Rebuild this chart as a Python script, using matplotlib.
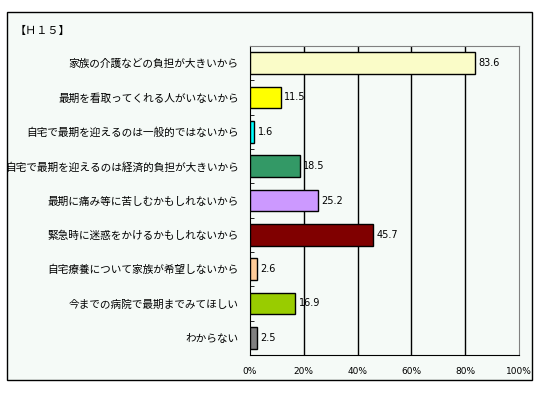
import matplotlib.pyplot as plt
from matplotlib.patches import Rectangle
import numpy as np

plt.rcParams['font.family'] = ['Noto Sans CJK JP', 'DejaVu Sans']

# data
labels = ['家族の介護などの負担が大きいから',
          '最期を看取ってくれる人がいないから',
          '自宅で最期を迎えるのは一般的ではないから',
          '自宅で最期を迎えるのは経済的負担が大きいから',
          '最期に痛み等に苦しむかもしれないから',
          '緊急時に迷惑をかけるかもしれないから',
          '自宅療養について家族が希望しないから',
          '今までの病院で最期までみてほしい',
          'わからない']
values = [83.6, 11.5, 1.6, 18.5, 25.2, 45.7, 2.6, 16.9, 2.5]
colors = ['#FAFCC8', '#FFFF00', '#00FFFF', '#339966', '#CC99FF',
          '#800000', '#FFCC99', '#99CC00', '#808080']
xticks = [0, 20, 40, 60, 80, 100]
xticklabels = ['0%', '20%', '40%', '60%', '80%', '100%']

bg = '#F5FAF7'
fig = plt.figure(figsize=(5.4, 3.97), dpi=100)
fig.patch.set_facecolor('white')

# outer frame
fig.patches.append(Rectangle((7/540, 1-380/397), 525/540, 368/397,
                             transform=fig.transFigure, facecolor=bg,
                             edgecolor='black', lw=1, zorder=-10))

ax = fig.add_axes([250/540, 1-355/397, 269/540, 309/397])
ax.set_facecolor(bg)

y = np.arange(len(labels))
ax.barh(y, values, height=0.64, color=colors, edgecolor='black', lw=1, zorder=3)
for yi, v in zip(y, values):
    ax.text(v + 1.3, yi, f'{v:.1f}', va='center', ha='left', fontsize=7,
            family='DejaVu Sans', zorder=4)

ax.set_xlim(0, 100)
ax.set_ylim(len(labels) - 0.5, -0.5)
ax.set_yticks(y)
ax.set_yticklabels(labels, fontsize=7.7)
ax.tick_params(axis='y', length=0, pad=8)
ax.set_yticks(np.arange(0.5, len(labels) - 1, 1), minor=True)
ax.tick_params(axis='y', which='minor', direction='in', length=3, color='black')

ax.set_xticks(xticks)
ax.set_xticklabels(xticklabels, fontsize=6.5, family='DejaVu Sans')
ax.tick_params(axis='x', length=0, pad=9)

for gx in xticks[1:-1]:
    ax.axvline(gx, color='black', lw=1, zorder=1)

ax.spines['left'].set_color('black')
ax.spines['bottom'].set_color('black')
ax.spines['top'].set_color('#808080')
ax.spines['right'].set_color('#808080')

fig.text(15/540, 1-31/397, '【Ｈ１５】', fontsize=8, va='center', ha='left')

plt.savefig('out.png', dpi=100, facecolor=fig.get_facecolor())
